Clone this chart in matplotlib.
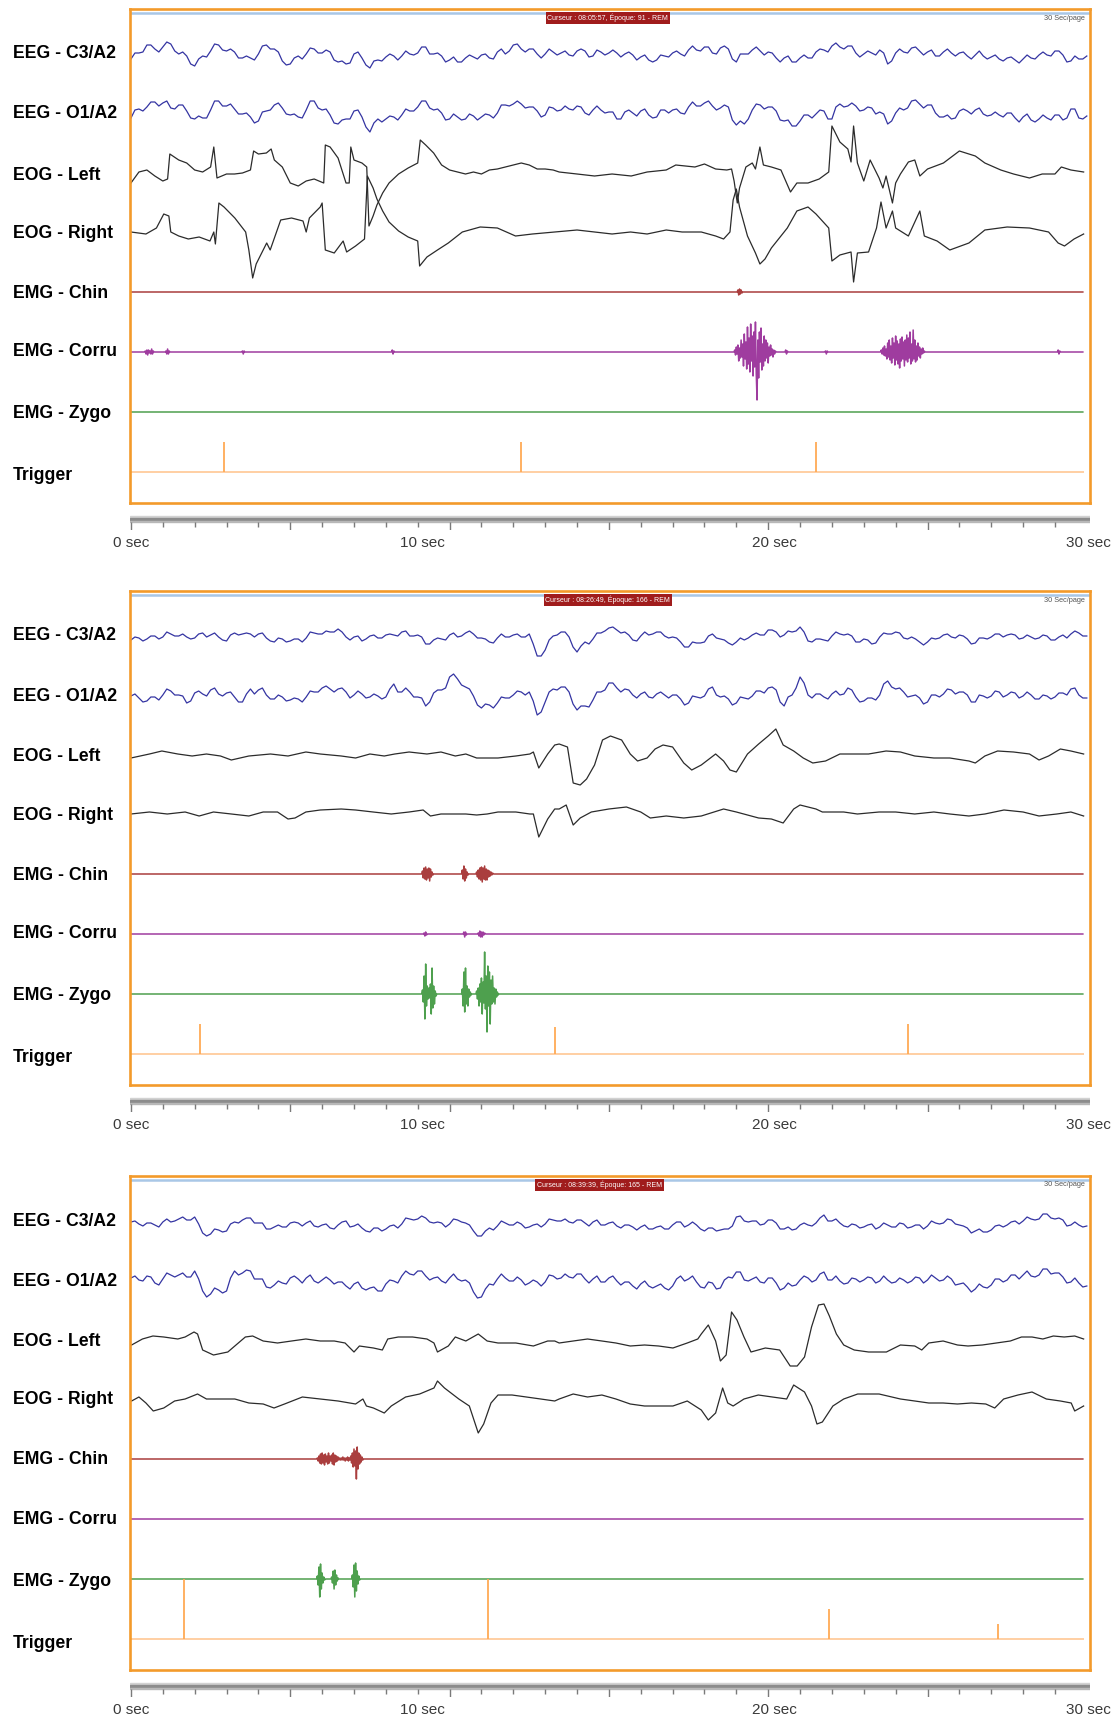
import matplotlib.pyplot as plt
import numpy as np

W, H = 1120, 1727

channelNames = ['EEG - C3/A2', 'EEG - O1/A2', 'EOG - Left', 'EOG - Right',
                'EMG - Chin', 'EMG - Corru', 'EMG - Zygo', 'Trigger']
cursorTexts = ['Curseur : 08:05:57, Époque: 91 - REM',
               'Curseur : 08:26:49, Époque: 166 - REM',
               'Curseur : 08:39:39, Époque: 165 - REM']
cursorTimes = [14.97, 14.97, 14.7]
timeLabels = ['0 sec', '10 sec', '20 sec', '30 sec']
timeLabelPos = [0, 9.15, 20.2, 30.05]

eegStep = 0.25   # s between EEG samples; the *_mid lists sit halfway between them
emgStep = 0.025  # s between EMG burst samples

# ---- epoch 1 ----
p1_c3 = [-2, 4, 12, 8, 10, 13, 3, 1, -9, 1, 6, 12, 6, 5, -1, -1, 3, 12, 8, -4,
         -7, 1, 3, 8, 4, 5, -5, -7, 3, -1, -11, -3, 0, 1, 1, 3, 4, 10, 3, 1,
         -3, -5, -1, 0, 2, -1, 5, 3, 12, 8, 8, 3, 3, 5,
         4, 2, 6, 6, 1, 5, 4, 4, 3, 2, 0, -3, -3, 1, 4, 3, 7, 7, 10, 4,
         9, 8, -5, 3, 7, 6, 5, -1, -1, -5, -1, -1, 5, 7, 11, 10, 11, 4, 3, 4,
         7, -7, 4, 5, 9, 6, 5, 1, 5, 4, 4, 1, 2, 1, 0, -2, -1, -3, -2, -1,
         2, 2, 6, 2, -4, -2, 1]
p1_c3_mid = [4, 5, 12, 5, 15, 6, 5, -7, -2, 0, 13, 7, 8, -1, 1, -3, 11, 8, 5, -8,
             -1, -2, 9, 4, 7, -3, -4, -6, 5, -8, -4, -4, 3, -3, 6, 2, 10, 3, 4, -5,
             0, -5, 2, -2, 3, -2, 8, 6, 13, 5, 8, -1, 8, 2, 6, 1, 8, 0, 7, 2,
             7, 0, 5, -3, 2, -5, 2, 0, 6, 1, 11, 6, 10, 3, 11, -2, 3, 3, 10, 2,
             4, -5, 1, -5, 2, -1, 8, 5, 14, 8, 11, 0, 6, 2, 4, -4, 8, 4, 10, 2,
             7, 1, 8, 1, 5, -2, 6, -2, 2, -4, 0, -6, 2, -2, 5, 1, 6, -5, 1, -2]
p1_o1 = [-2, 7, 9, 14, 13, 8, 11, 5, -3, -2, 6, 15, 10, 7, 2, -1, -5, 5, 11, 8,
         1, -1, 6, 15, 6, 1, -8, -3, 5, -1, -16, -3, -3, -1, 1, 5, 9, 15, 6, 3,
         -3, -1, -3, 0, -1, 1, 3, 11, 12, 12, 9, 5, 1, 8,
         6, 7, 10, 3, 6, 6, 4, -3, 4, 3, 5, 1, -1, 6, 6, 3, 9, 10, 13, 10,
         8, 9, -9, -8, 6, 11, 9, 5, -5, -10, -5, 1, 2, 5, -3, 12, 10, 10, 6, 8,
         4, -8, 3, 6, 15, 12, 11, 3, -1, -3, 5, 5, 6, 2, 1, 1, 3, -2, -1, -4,
         -3, -2, 1, -4, 7, -2, 0]
p1_o1_mid = [6, 5, 14, 10, 15, 7, 11, -2, 0, -2, 15, 10, 12, 2, 3, -7, 4, 6, 13, 2,
             2, -2, 15, 8, 7, -7, -4, -3, 6, -11, -7, -6, 0, -4, 7, 5, 15, 8, 7, -4,
             2, -4, 2, -4, 2, -2, 11, 10, 15, 8, 9, -1, 9, 5, 10, 6, 9, 1, 10, 3,
             4, -3, 6, 0, 7, -2, 6, 3, 7, 2, 14, 10, 15, 6, 11, -4, -5, -3, 12, 7,
             9, -4, -4, -10, 1, -2, 6, -3, 9, 9, 13, 5, 9, 2, 2, -5, 8, 8, 16, 8,
             11, -1, 1, -2, 7, 2, 8, 0, 4, -1, 3, -6, 2, -6, 1, -4, 1, -2, 7, -3]
p1_eogL = [(0, -9), (0.25, 2), (0.5, 4), (0.75, -2), (1.0, -7), (1.15, -5), (1.22, 20), (1.5, 14),
           (1.75, 11), (2.0, 4), (2.25, 2), (2.5, 7), (2.6, 27), (2.7, -4), (3.0, 0), (3.25, 0),
           (3.5, 1), (3.75, 4), (3.85, 23), (4.0, 20), (4.25, 21), (4.4, 25), (4.5, 14), (4.75, 7),
           (5.0, -9), (5.25, -12), (5.5, -7), (5.75, -5), (6.05, -9), (6.1, 29), (6.25, 27), (6.5, 16),
           (6.75, -9), (6.85, -9), (6.9, 27), (7.0, 14), (7.25, 11), (7.4, 7), (7.47, -52), (7.6, -42),
           (7.72, -31), (7.9, -19), (8.1, -9), (8.4, 0), (8.7, 6), (9.0, 11), (9.08, 34), (9.25, 29),
           (9.5, 21), (9.75, 9), (10.0, 4), (10.25, 2), (10.5, 0), (10.75, 2), (11.0, 0), (11.25, 4),
           (11.5, 5), (11.75, 7), (12.0, 9), (12.25, 11), (12.5, 9), (12.75, 5), (13.0, 5), (13.25, 4),
           (13.44, 2), (14.0, 0), (14.55, -2), (15.1, 0), (15.7, -2), (16.2, 2), (16.8, 4), (17.1, 9),
           (17.7, 7), (18.0, 10), (18.35, 5), (18.7, 4), (18.85, 5), (18.93, -7), (19.03, -29), (19.1, -14),
           (19.3, 7), (19.5, 11), (19.6, 5), (19.74, 27), (19.85, 9), (20.1, 7), (20.4, 4), (20.7, -18),
           (20.9, -9), (21.25, -9), (21.6, -5), (21.9, 2), (22.0, 48), (22.25, 32), (22.5, 25), (22.6, 12),
           (22.68, 48), (22.8, 11), (23.0, -7), (23.2, 14), (23.48, -4), (23.6, -14), (23.7, -2), (23.9, -29),
           (24.0, -9), (24.15, 0), (24.4, 12), (24.6, 14), (24.76, -2), (25.0, 5), (25.5, 11), (26.0, 23),
           (26.5, 18), (26.8, 11), (27.3, 4), (27.7, 0), (28.2, -4), (28.6, 0), (29.0, 0), (29.2, 7),
           (29.5, 4), (29.9, 2)]
p1_eogR = [(0, 0), (0.47, -2), (0.8, 4), (1.03, 18), (1.19, 16), (1.25, 0), (1.5, -4), (1.8, -7),
           (2.14, -5), (2.48, -9), (2.6, 0), (2.65, -12), (2.76, 29), (2.92, 25), (3.26, 14), (3.6, 0),
           (3.7, -18), (3.82, -46), (3.93, -32), (4.15, -18), (4.26, -11), (4.37, -18), (4.7, 12), (5.04, 14),
           (5.4, 11), (5.5, 0), (5.6, 14), (5.94, 25), (6.0, 29), (6.1, -18), (6.38, -21), (6.66, -9),
           (6.77, -20), (7.05, -14), (7.33, -7), (7.42, 56), (7.6, 44), (7.72, 33), (7.9, 21), (8.1, 10),
           (8.4, 1), (8.7, -5), (9.0, -9), (9.06, -34), (9.29, -25), (9.62, -18), (9.96, -11), (10.4, 0),
           (10.96, 5), (11.5, 4), (12.07, -4), (12.6, -2), (13.3, 0), (14.0, 2), (14.55, 0), (15.1, -2),
           (15.68, 0), (16.2, -2), (16.8, 2), (17.3, 0), (17.9, 0), (18.35, -4), (18.6, -7), (18.8, 0),
           (18.9, 32), (19.0, 43), (19.1, 25), (19.35, -4), (19.6, -21), (19.74, -32), (19.9, -27), (20.1, -16),
           (20.6, 4), (20.9, 21), (21.25, 25), (21.5, 18), (21.9, 4), (22.0, -29), (22.25, -23), (22.6, -20),
           (22.68, -50), (22.8, -21), (23.15, -20), (23.4, 4), (23.54, 30), (23.7, 4), (23.9, 21), (24.0, 4),
           (24.2, 0), (24.4, -4), (24.76, 21), (24.9, -4), (25.3, -9), (25.7, -18), (26.3, -11), (26.8, 2),
           (27.5, 5), (28.2, 4), (28.8, 0), (29.1, -11), (29.3, -14), (29.6, -7), (29.9, -2)]
p1_chin = [(19.05, [2, -3, 3, -2, 2, -1])]
p1_corru = [(0.45, [1, -2, 2, -3, 2, -1, 1, -2, 3, -2, 1]),
            (1.1, [1, -2, 3, -2, 1]),
            (3.5, [1, -2, 1]),
            (8.2, [2, -2, 1]),
            (18.95, [2, -3, 5, -2, 7, -9, 4, -6, 12, -5, 8, -14, 18, -7, 10, -17, 25, -12, 14, -20,
                     28, -9, 16, -24, 20, -15, 30, -22, -48, 12, -26, 20, -10, 24, -18, 8, -14, 16, -9, 12,
                     -6, 9, -11, 5, -4, 7, -3, 3, -5, 2, -2, 1]),
            (20.55, [2, -2, 1]),
            (21.8, [1, -2, 1]),
            (23.55, [2, -2, 4, -3, 6, -4, 3, -7, 9, -5, 12, -8, 6, -11, 14, -6, 9, -13, 16, -8,
                     11, -12, 8, -16, 13, -9, 15, -7, 10, -14, 12, -8, 17, -10, 14, -6, 20, -12, 8, -9,
                     22, -7, 12, -10, 6, -8, 9, -4, 5, -6, 3, -2, 4, -1, 1, 0]),
            (29.1, [2, -2, 1])]
p1_zygo = []
p1_trigT = [2.92, 12.25, 21.5]
p1_trigH = [30, 30, 30]

# ---- epoch 2 ----
p2_c3 = [-1, 1, 0, 3, 2, 5, 3, 2, 1, 6, 4, 2, -2, 6, 5, 5, 5, 1, -3, 0,
         -2, 0, 1, 6, 5, 7, 10, 2, 2, -2, 3, 1, 4, 4, 7, 3, 4, -5, -1, 0,
         4, 2, 6, 5, 1, -3, 1, 2, 4, 2, 5, -17, -11, 3,
         7, 2, -13, -3, 0, 6, 11, 9, 7, -1, 3, 4, 7, 3, 2, -3, -8, -4, -3, 5,
         0, -4, -3, -1, 4, 4, 9, 7, 4, 7, 12, -2, 0, -1, 3, 5, 5, -3, 0, -5,
         2, 5, 7, 1, 2, -3, -3, 0, 4, 2, 4, 0, -4, 1, 2, 5, 4, 4, 1, 2,
         1, 3, -1, 4, 5, 6, 3]
p2_c3_mid = [2, -2, 3, 0, 7, 3, 5, 0, 5, 2, 6, -1, 4, 4, 6, 2, 6, -2, 1, -3,
             0, -3, 7, 5, 8, 7, 7, -1, 3, 0, 4, 1, 5, 3, 8, 3, 2, -5, 1, -1,
             6, 3, 8, 1, 0, -4, 5, 2, 5, 2, -5, -17, -1, 4, 7, -8, -7, -5, 6, 8,
             12, 6, 4, -2, 7, 5, 7, 1, 1, -8, -3, -4, 3, 1, -1, -6, 1, 1, 6, 4,
             9, 2, 8, 8, 7, -3, 0, -2, 7, 4, 3, -3, -1, -4, 6, 5, 6, 0, 0, -6,
             1, 1, 5, 1, 3, -5, 1, 0, 5, 2, 5, 0, 4, 0, 4, -1, 2, 1, 8, 3]
p2_o1 = [2, 0, -3, 1, 3, 7, 3, -5, 5, 4, 8, 4, 5, 1, -4, 9, 8, 3, -1, 1,
         -2, -1, 1, 6, 10, 9, 9, 6, 3, 4, 1, 2, 1, 14, 6, 6, 1, -8, 5, 8,
         21, 19, 11, 2, -10, -7, -5, 0, 3, 6, 6, -17, -4, 9,
         11, 6, -12, -8, -2, 6, 15, 10, 9, 3, 4, 1, 4, 3, 3, -1, -5, 1, 2, 11,
         1, -1, -5, 0, 2, 7, 10, 8, -8, 3, 21, 3, 4, 1, 4, 3, 10, 1, -3, 0,
         3, 17, 9, 6, 2, 0, -4, 3, 4, 8, 6, 3, -4, 2, 2, 6, 3, 5, 2, 3,
         -1, 2, 1, 5, 9, 3, 0]
p2_o1_mid = [4, -4, 1, -2, 9, 3, 2, -3, 7, 2, 10, 2, 6, -4, 4, 4, 10, -1, 3, -3,
             0, -4, 7, 6, 12, 6, 10, 0, 7, 0, 4, -1, 9, 6, 10, 1, 0, -4, 8, 10,
             24, 13, 9, -7, -6, -10, 1, 0, 7, 3, -3, -14, 6, 8, 11, -6, -8, -9, 6, 8,
             15, 6, 8, 0, 6, 0, 6, 0, 3, -7, 2, 0, 9, 3, 2, -7, 1, -1, 7, 5,
             11, -4, 1, 10, 15, 0, 4, -1, 7, 4, 8, -4, 0, -2, 14, 11, 10, 1, 3, -6,
             3, 1, 9, 4, 6, -4, 3, 0, 7, 1, 6, 0, 6, -1, 3, -1, 5, 3, 10, 0]
p2_eogL = [(0, -2), (0.58, 2), (0.97, 5), (1.47, 2), (1.92, 0), (2.37, 2), (2.81, 0), (3.15, -4),
           (3.7, 0), (4.38, 2), (4.93, 0), (5.49, 4), (5.94, 2), (6.6, 0), (7.05, -2), (7.5, 2),
           (7.95, 0), (8.28, 2), (8.73, 4), (9.29, 2), (9.73, 4), (10.18, 0), (10.51, 2), (10.85, -2),
           (11.07, -2), (11.52, -2), (12.08, 0), (12.52, 2), (12.63, 4), (12.8, -12), (13.08, 2), (13.3, 11),
           (13.44, 12), (13.7, 9), (13.88, -27), (14.1, -29), (14.3, -23), (14.55, -9), (14.8, 16), (15.05, 20),
           (15.4, 16), (15.67, 2), (15.9, -5), (16.2, -2), (16.45, 7), (16.7, 11), (17.0, 9), (17.35, -7),
           (17.6, -14), (17.9, -9), (18.35, 2), (18.6, -5), (18.8, -14), (19.0, -16), (19.35, 2), (19.7, 12),
           (20.0, 20), (20.24, 27), (20.47, 11), (20.8, 5), (21.1, -2), (21.4, -7), (21.8, -5), (22.25, 2),
           (22.7, 2), (23.15, 2), (23.7, 5), (24.15, 4), (24.6, 0), (25.2, -2), (25.7, -2), (26.3, -5),
           (26.5, -7), (26.8, 0), (27.2, 5), (27.7, 4), (28.2, 2), (28.5, -4), (28.8, 0), (29.17, 7),
           (29.5, 5), (29.9, 2)]
p2_eogR = [(0, 0), (0.58, 2), (1.14, 0), (1.7, 2), (2.14, -2), (2.59, 2), (3.15, 0), (3.7, -2),
           (4.15, 2), (4.6, 2), (4.93, -5), (5.15, -4), (5.49, 2), (5.94, 4), (6.6, 5), (7.05, 4),
           (7.6, 2), (8.17, 0), (8.73, 2), (9.17, 4), (9.4, -2), (9.73, 0), (10.18, 0), (10.51, 0),
           (10.85, -1), (11.18, 0), (11.52, 2), (12.08, 2), (12.52, 0), (12.63, 0), (12.8, -23), (13.08, -5),
           (13.3, 5), (13.44, 5), (13.66, 9), (13.88, -11), (14.1, -4), (14.45, 2), (15.0, 5), (15.55, 7),
           (16.0, 2), (16.3, -4), (16.8, -2), (17.35, -4), (17.9, -2), (18.6, 5), (19.0, 2), (19.7, -4),
           (20.1, -5), (20.47, -9), (20.8, 5), (21.0, 9), (21.5, 5), (21.7, 2), (22.37, 2), (22.8, 0),
           (23.48, 2), (24.0, 2), (24.6, 0), (25.2, 2), (25.7, 0), (26.3, -2), (26.8, 0), (27.4, 4),
           (28.0, 2), (28.5, -2), (29.06, 0), (29.5, 2), (29.9, -2)]
p2_chin = [(9.15, [3, -4, 6, -5, 7, -6, 5, -4, 6, -7, 5, -3, 2, -1]),
           (10.4, [4, -5, 8, -7, 5, -4, 2, -1]),
           (10.85, [2, -3, 4, -5, 6, -6, 7, -8, 6, -5, 8, -6, 5, -6, 4, -3, 3, -2, 2, -1, 1])]
p2_corru = [(9.2, [1, -2, 2, -1]),
            (10.45, [2, -3, 2, -1]),
            (10.9, [1, -2, 3, -3, 2, -3, 2, -1, 1])]
p2_zygo = [(9.15, [4, -8, 18, -25, 30, -12, 8, -5, 6, -4, 10, -20, 26, -14, 8, -10, 3, -2]),
           (10.4, [5, -12, 22, -18, 26, -10, 8, -12, 5, -3, 2, -1]),
           (10.85, [3, -5, 6, -12, 10, -8, 16, -20, 12, -9, 42, -15, 18, -38, 28, -12, 22, -30,
                    14, -10, 18, -8, 6, -10, 5, -3, 2, -1])]
p2_trigT = [2.17, 13.3, 24.4]
p2_trigH = [30, 27, 30]

# ---- epoch 3 ----
p3_c3 = [2, 0, 1, -1, 2, 2, 5, 4, 7, -9, -10, -6, -7, 2, 4, 6, 1, -5, -3, -3,
         1, 1, 1, -2, -1, -4, -1, 3, -2, -4, -8, -4, -5, -1, 0, 5, 5, 6, 1, 1,
         0, 4, 1, -7, -12, -4, -2, 1, -1, 0, -3, 0, 0, 4,
         3, 2, 4, 1, 2, -1, 1, -2, -1, -3, -3, -5, -3, -5, -1, 2, -1, -1, -7, -4,
         -6, -5, 7, 3, 3, -1, 4, 1, -5, -6, -1, -1, 1, 9, 3, 1, -3, -1, -3, 0,
         -3, -1, -3, 0, -3, -1, -2, 1, 1, 4, -1, -4, -7, -8, -6, -1, -1, 3, 3, 5,
         5, 10, 5, 4, -1, -1, -2]
p3_c3_mid = [3, -2, 1, -3, 5, 3, 7, 4, 0, -12, -5, -8, 0, 1, 6, 1, 1, -5, -1, -3,
             2, -2, 3, -3, 0, -5, 2, -3, 0, -7, -4, -7, -2, -4, 6, 4, 8, 2, 2, -3,
             5, 2, -1, -12, -7, -6, 3, -1, 2, -4, -1, -3, 5, 3, 5, 1, 4, -2, 4, -1,
             2, -4, -1, -6, -1, -5, -2, -5, 2, -3, 2, -5, -4, -7, -5, -2, 8, 2, 3, 0,
             4, -5, -3, -5, 1, -2, 6, 3, 5, -2, 0, -4, -1, -5, 1, -3, 1, -4, -1, -5,
             3, 0, 5, 0, -2, -9, -5, -8, -2, -3, 2, 0, 7, 4, 10, 6, 6, -2, 2, -3]
p3_o1 = [5, 3, 7, 0, 4, 8, 8, 6, 12, -8, -11, -7, -8, 12, 10, 12, 4, -4, -2, 0,
         5, 4, 5, 2, 3, 3, 1, -3, -1, -5, -5, -8, -1, 2, 7, 9, 12, 7, 5, 2,
         5, 4, 3, -9, -14, -1, 4, 5, 2, 3, 0, 1, 1, 7,
         5, 6, 9, 4, 4, 1, 5, 2, 1, -3, -1, -3, -3, -5, -3, 7, 4, 1, -5, 0,
         -5, 6, 11, 3, 4, 1, 5, 0, -5, -3, 3, 5, 3, 11, 3, 2, 0, 4, 3, 5,
         2, 3, 1, 3, 2, 5, 3, 5, 3, 4, -1, -4, -6, -4, -2, 4, 3, 8, 8, 7,
         8, 14, 10, 6, 1, 0, -3]
p3_o1_mid = [7, 2, 6, -2, 10, 6, 10, 6, 4, -14, -5, -10, 5, 8, 13, 4, 4, -5, 2, -1,
             7, 0, 8, 0, 6, -1, 1, -6, 1, -7, -4, -8, 3, 0, 12, 8, 12, 3, 6, 0,
             9, 2, 0, -15, -6, -2, 9, 2, 6, -2, 3, -3, 8, 4, 9, 5, 9, 0, 7, 1,
             7, -2, 1, -6, 2, -5, -1, -7, 4, 2, 7, -4, 1, -6, 3, 5, 11, 2, 6, 0,
             5, -7, 0, -2, 7, 1, 9, 3, 7, -1, 5, 1, 6, 0, 7, 0, 5, 0, 6, 0,
             8, 2, 7, -2, 0, -9, -1, -5, 4, 1, 8, 4, 12, 6, 14, 9, 10, 0, 5, -4]
p3_eogL = [(0.02, -4), (0.36, 2), (0.69, 5), (1.03, 4), (1.47, 2), (1.7, 4), (1.98, 9), (2.09, 7),
           (2.25, -9), (2.59, -14), (3.04, -11), (3.26, -5), (3.59, 4), (3.82, 5), (4.15, 0), (4.6, -2),
           (5.04, 0), (5.49, 2), (5.94, 0), (6.38, 0), (6.72, -2), (7.0, -11), (7.17, -5), (7.61, -7),
           (7.89, -9), (8.06, 2), (8.39, 4), (8.84, 4), (9.29, 2), (9.51, -2), (9.62, -11), (9.96, -5),
           (10.18, 4), (10.51, 0), (10.9, 7), (11.18, 0), (11.52, -2), (12.08, -2), (12.63, -5), (13.08, 0),
           (13.3, 0), (13.44, -2), (13.88, 0), (14.33, 2), (14.78, 0), (15.22, -2), (15.67, -5), (16.12, -4),
           (16.56, -5), (17.01, -7), (17.46, -2), (17.79, 2), (17.9, 7), (18.12, 16), (18.35, 0), (18.5, -20),
           (18.68, -14), (18.85, 29), (19.02, 21), (19.24, 4), (19.46, -11), (19.91, -7), (20.36, -9), (20.69, -25),
           (20.91, -25), (21.14, -16), (21.36, 14), (21.58, 36), (21.75, 37), (21.92, 25), (22.14, 7), (22.37, -4),
           (22.7, -9), (23.15, -11), (23.71, -11), (24.15, -4), (24.6, -5), (24.82, -9), (25.04, -2), (25.49, 0),
           (25.94, -4), (26.27, -5), (26.72, -4), (27.16, -2), (27.6, 0), (27.95, 4), (28.28, 4), (28.62, 2),
           (28.95, 5), (29.29, 4), (29.62, 5), (29.9, 2)]
p3_eogR = [(0.02, -2), (0.25, 2), (0.47, -4), (0.7, -12), (1.03, -9), (1.37, -2), (1.7, 0), (2.09, 5),
           (2.37, 0), (2.81, 0), (3.26, 0), (3.7, -4), (4.15, -5), (4.49, -9), (4.82, -5), (5.38, 2),
           (5.94, 0), (6.5, -2), (7.05, -5), (7.28, 0), (7.39, -7), (7.61, -9), (7.95, -14), (8.17, -7),
           (8.62, 2), (9.06, 5), (9.51, 11), (9.62, 18), (9.84, 11), (10.29, 0), (10.62, -7), (10.9, -34),
           (11.07, -25), (11.3, -4), (11.52, 4), (11.96, 4), (12.41, 2), (12.86, 0), (13.3, -2), (13.44, 0),
           (13.88, 5), (14.33, 2), (14.78, 4), (15.22, 0), (15.67, -5), (16.12, -7), (16.56, -7), (17.01, -7),
           (17.46, -2), (17.9, -11), (18.12, -21), (18.35, -14), (18.57, 11), (18.73, -4), (18.9, -7), (19.24, 0),
           (19.69, 4), (20.13, 2), (20.58, 0), (20.8, 14), (21.14, 7), (21.36, -7), (21.53, -25), (21.7, -23),
           (22.03, -7), (22.37, 0), (22.81, 5), (23.48, 5), (24.15, 0), (24.6, -2), (25.04, -4), (25.49, -4),
           (25.94, -5), (26.38, -4), (26.83, -5), (27.11, -9), (27.39, 0), (27.84, 4), (28.28, 7), (28.73, 0),
           (29.17, -2), (29.51, -4), (29.62, -12), (29.9, -7)]
p3_chin = [(5.85, [1, -2, 3, -4, 5, -5, 6, -4, 4, -6, 5, -3, 3, -5, 6, -4, 3, -2, 4, -5,
                   6, -6, 4, -3, 3, -2, 2, -1, 1, -1, 1, -1, 2, -1, 1, -2, 1, -1, 2, -2,
                   1, -1, 3, -4, 6, -8, 10, -7, 8, -20, 12, -10, 6, -5, 4, -3, 2, -1])]
p3_corru = []
p3_zygo = [(5.85, [3, -6, 12, -18, 15, -10, 6, -4, 2, -1]),
           (6.3, [2, -4, 8, -10, 9, -6, 4, -2, 1]),
           (6.95, [4, -8, 14, -18, 16, -12, 8, -5, 3, -1])]
p3_trigT = [1.65, 11.2, 21.9, 27.2]
p3_trigH = [60, 60, 30, 15]

# layout (pixels)
boxLeft, boxRight, boxHeight = 130, 1090, 494
panelTops = [9, 591, 1176]
rowY = [48, 107, 165, 223, 283, 343, 403]
trigY = 463
labelY = [45, 105, 166, 224, 284, 343, 405, 467]
xMin, xMax = -0.03, 30.1

orange = '#f39a2b'
eegColor = '#3434a2'
eogColor = '#2b2b2b'
emgColors = ['#9b1c1c', '#8e1a8e', '#2f8f2f']
labelFont = ['Liberation Sans', 'DejaVu Sans']


def interleave(main, mid):
    out = np.empty(len(main) + len(mid))
    out[0::2] = main
    out[1::2] = mid
    return out


def emgTrace(bursts):
    t = np.arange(0, 29.9, emgStep)
    v = np.zeros_like(t)
    for start, vals in bursts:
        i0 = int(round(start / emgStep))
        v[i0:i0 + len(vals)] = vals
    return t, v


def drawPanel(top, eegs, eogL, eogR, emgs, trigT, trigH, cursor, cursorX):
    ax = fig.add_axes([boxLeft / W, 1 - (top + boxHeight) / H,
                       (boxRight - boxLeft) / W, boxHeight / H])
    ax.set_xlim(xMin, xMax)
    ax.set_ylim(boxHeight, 0)
    ax.set_xticks([])
    ax.set_yticks([])
    for s in ax.spines.values():
        s.set_color(orange)
        s.set_linewidth(1.9)
        s.set_zorder(6)
    ax.axhline(3.6, color='#a9c7e6', lw=1.8, zorder=5)

    # EEG
    for i, (main, mid) in enumerate(eegs):
        sig = interleave(main, mid)
        t = np.arange(len(sig)) * eegStep / 2
        ax.plot(t, rowY[i] - sig, color=eegColor, lw=0.9)
    # EOG
    for i, pts in enumerate([eogL, eogR]):
        t, v = zip(*pts)
        ax.plot(t, rowY[2 + i] - np.array(v), color=eogColor, lw=0.9)
    # EMG
    for i, bursts in enumerate(emgs):
        t, v = emgTrace(bursts)
        ax.plot(t, rowY[4 + i] - v, color=emgColors[i], lw=1.1, alpha=0.85)
    # trigger channel
    ax.hlines(trigY, 0, 29.9, color='#ffcc9c', lw=1.3)
    ax.vlines(trigT, trigY - np.array(trigH), trigY, color='#ffaa55', lw=1.3)

    ax.text(cursorX, 9, cursor, ha='center', va='center', fontsize=5.0, color='white',
            family=labelFont, zorder=7,
            bbox=dict(boxstyle='square,pad=0.25', fc='#a01c1c', ec='none'))
    ax.text(29.95, 9, '30 Sec/page', ha='right', va='center', fontsize=5.3,
            color='#555555', family=labelFont, zorder=7)

    for name, y in zip(channelNames, labelY):
        fig.text(13 / W, 1 - (top + y) / H, name, ha='left', va='center',
                 fontsize=12.7, fontweight='bold', family=labelFont)

    # time ruler under the epoch
    tl = fig.add_axes([boxLeft / W, 1 - (top + 521) / H,
                       (boxRight - boxLeft) / W, 17 / H])
    tl.set_xlim(xMin, xMax)
    tl.set_ylim(17, 0)
    tl.axis('off')
    tl.axhspan(3, 4.5, color='#d2d2d2')
    tl.axhspan(4.5, 8, color='#8c8c8c')
    tl.axhspan(8, 9, color='#b8b8b8')
    for s in range(30):
        tl.vlines(s, 9, 17 if s % 5 == 0 else 14, color='#7a7a7a', lw=1)
    for lbl, x in zip(timeLabels, timeLabelPos):
        tl.text(x, 30, lbl, ha='center', va='center', fontsize=11,
                color='#3a3a3a', family=labelFont, clip_on=False)


fig = plt.figure(figsize=(W / 100, H / 100), dpi=100)
fig.patch.set_facecolor('white')

drawPanel(panelTops[0], [(p1_c3, p1_c3_mid), (p1_o1, p1_o1_mid)], p1_eogL, p1_eogR,
          [p1_chin, p1_corru, p1_zygo], p1_trigT, p1_trigH, cursorTexts[0], cursorTimes[0])
drawPanel(panelTops[1], [(p2_c3, p2_c3_mid), (p2_o1, p2_o1_mid)], p2_eogL, p2_eogR,
          [p2_chin, p2_corru, p2_zygo], p2_trigT, p2_trigH, cursorTexts[1], cursorTimes[1])
drawPanel(panelTops[2], [(p3_c3, p3_c3_mid), (p3_o1, p3_o1_mid)], p3_eogL, p3_eogR,
          [p3_chin, p3_corru, p3_zygo], p3_trigT, p3_trigH, cursorTexts[2], cursorTimes[2])

fig.savefig('out.png', dpi=100)
